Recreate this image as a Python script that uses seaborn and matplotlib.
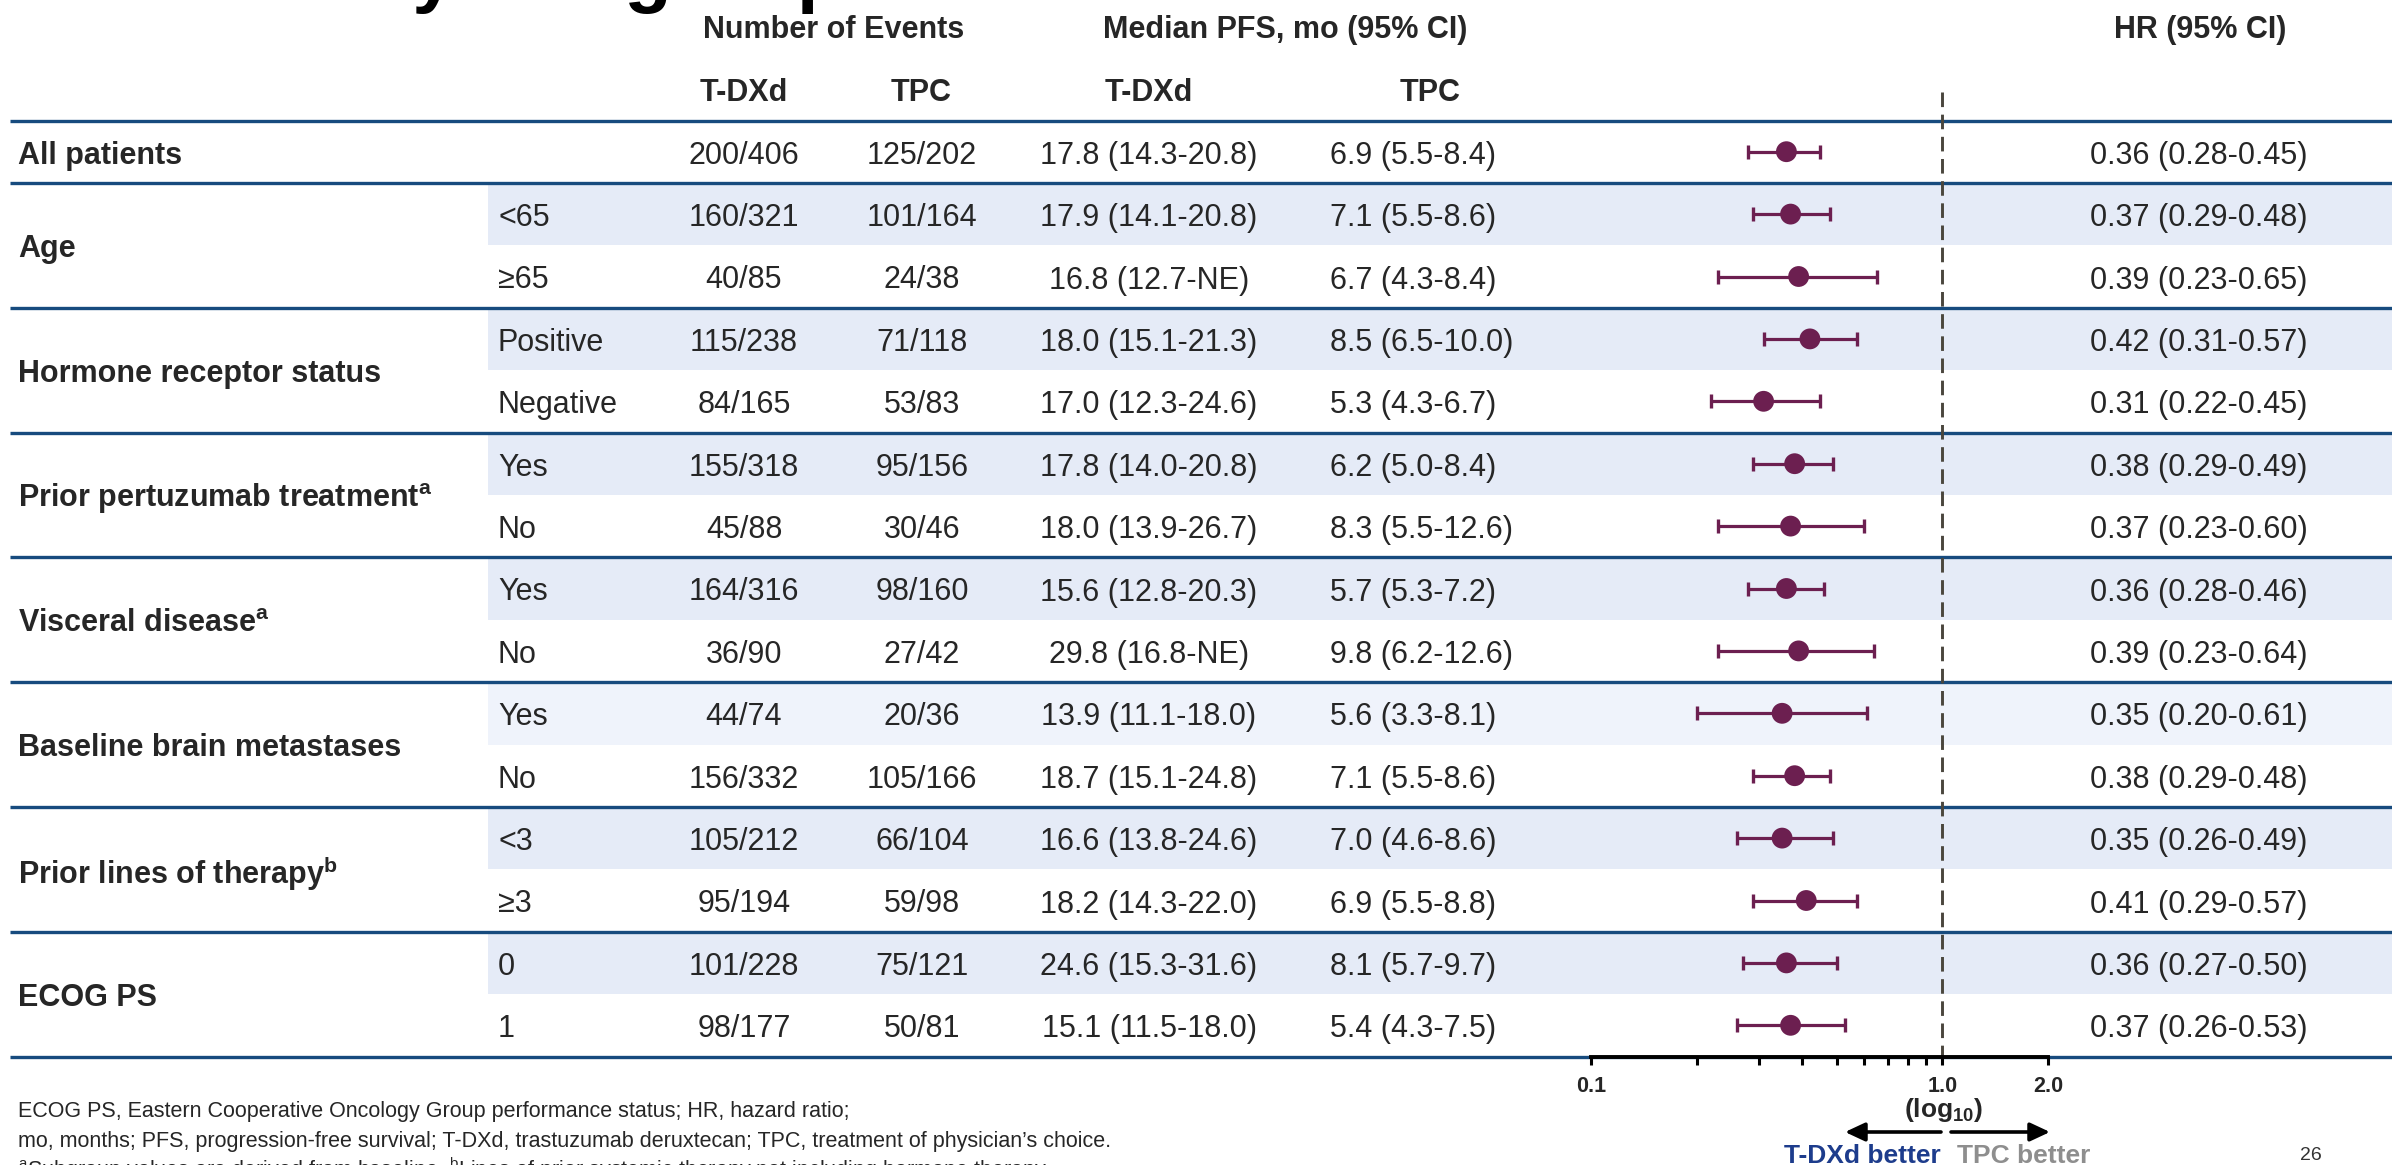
import numpy as np
import pandas as pd
import matplotlib
matplotlib.use("Agg")
import matplotlib.pyplot as plt
from matplotlib.patches import Rectangle
from matplotlib.ticker import FixedLocator, NullFormatter
import seaborn as sns

# ---- table content -------------------------------------------------------
groups = ["All patients", "Age", "Hormone receptor status",
          r"Prior pertuzumab treatment$^{\mathbf{a}}$",
          r"Visceral disease$^{\mathbf{a}}$", "Baseline brain metastases",
          r"Prior lines of therapy$^{\mathbf{b}}$", "ECOG PS"]
group_sizes = [1, 2, 2, 2, 2, 2, 2, 2]
subgroups = ["", "<65", "≥65", "Positive", "Negative", "Yes", "No", "Yes", "No",
             "Yes", "No", "<3", "≥3", "0", "1"]
events_tdxd = ["200/406", "160/321", "40/85", "115/238", "84/165", "155/318",
               "45/88", "164/316", "36/90", "44/74", "156/332", "105/212",
               "95/194", "101/228", "98/177"]
events_tpc = ["125/202", "101/164", "24/38", "71/118", "53/83", "95/156",
              "30/46", "98/160", "27/42", "20/36", "105/166", "66/104",
              "59/98", "75/121", "50/81"]
median_tdxd = ["17.8 (14.3-20.8)", "17.9 (14.1-20.8)", "16.8 (12.7-NE)",
               "18.0 (15.1-21.3)", "17.0 (12.3-24.6)", "17.8 (14.0-20.8)",
               "18.0 (13.9-26.7)", "15.6 (12.8-20.3)", "29.8 (16.8-NE)",
               "13.9 (11.1-18.0)", "18.7 (15.1-24.8)", "16.6 (13.8-24.6)",
               "18.2 (14.3-22.0)", "24.6 (15.3-31.6)", "15.1 (11.5-18.0)"]
median_tpc = ["6.9 (5.5-8.4)", "7.1 (5.5-8.6)", "6.7 (4.3-8.4)",
              "8.5 (6.5-10.0)", "5.3 (4.3-6.7)", "6.2 (5.0-8.4)",
              "8.3 (5.5-12.6)", "5.7 (5.3-7.2)", "9.8 (6.2-12.6)",
              "5.6 (3.3-8.1)", "7.1 (5.5-8.6)", "7.0 (4.6-8.6)",
              "6.9 (5.5-8.8)", "8.1 (5.7-9.7)", "5.4 (4.3-7.5)"]
hr = [0.36, 0.37, 0.39, 0.42, 0.31, 0.38, 0.37, 0.36, 0.39, 0.35, 0.38,
      0.35, 0.41, 0.36, 0.37]
hr_lo = [0.28, 0.29, 0.23, 0.31, 0.22, 0.29, 0.23, 0.28, 0.23, 0.20, 0.29,
         0.26, 0.29, 0.27, 0.26]
hr_hi = [0.45, 0.48, 0.65, 0.57, 0.45, 0.49, 0.60, 0.46, 0.64, 0.61, 0.48,
         0.49, 0.57, 0.50, 0.53]
axis_ticks = [0.1, 1.0, 2.0]
axis_tick_labels = ["0.1", "1.0", "2.0"]

footnotes = [
    "ECOG PS, Eastern Cooperative Oncology Group performance status; HR, hazard ratio;",
    "mo, months; PFS, progression-free survival; T-DXd, trastuzumab deruxtecan; "
    "TPC, treatment of physician\u2019s choice.",
    r"$^{\rm a}$Subgroup values are derived from baseline. "
    r"$^{\rm b}$Lines of prior systemic therapy not including hormone therapy.",
]

# ---- style ----------------------------------------------------------------
W, H, DPI = 2392, 1165, 100
sns.set_theme(style="white")
plt.rcParams["font.family"] = ["Liberation Sans", "DejaVu Sans"]
plt.rcParams["mathtext.fontset"] = "custom"
plt.rcParams["mathtext.rm"] = "Liberation Sans"
plt.rcParams["mathtext.bf"] = "Liberation Sans:bold"
plt.rcParams["mathtext.it"] = "Liberation Sans:italic"

PURPLE = "#6C1F50"
RULE = "#174B7E"
SHADE = "#E5EBF7"
SHADE_LIGHT = "#EFF3FB"
FS = 22
DY = 4  # optical centring of row text

fig = plt.figure(figsize=(W / DPI, H / DPI), dpi=DPI)
tab = fig.add_axes([0, 0, 1, 1])
tab.set_xlim(0, W)
tab.set_ylim(H, 0)
tab.axis("off")

TOP, ROW = 120.5, 62.4
n = len(subgroups)


def yc(i):
    return TOP + (i + 0.5) * ROW + DY


# row shading: first row of every two-row group
starts = np.cumsum([0] + group_sizes[:-1])
for g, (s, size) in enumerate(zip(starts, group_sizes)):
    if size == 2:
        col = SHADE_LIGHT if g == 5 else SHADE
        tab.add_patch(Rectangle((488, TOP + s * ROW), W - 488, ROW,
                                facecolor=col, edgecolor="none", zorder=0))

# horizontal rules between groups
for b in list(starts) + [n]:
    y = TOP + b * ROW
    tab.plot([10, W], [y, y], color=RULE, lw=2.4, solid_capstyle="butt",
             zorder=1)

# slide title (runs off the top edge)
tab.text(192, -2, "PFS by Subgroup", fontsize=56, fontweight="bold",
         ha="left", va="baseline", color="black")

# column headers
hdr = dict(fontsize=FS, fontweight="bold", va="center", ha="center")
tab.text(834, 30, "Number of Events", **hdr)
tab.text(1285, 30, "Median PFS, mo (95% CI)", **hdr)
tab.text(2200, 30, "HR (95% CI)", **hdr)
tab.text(744, 93, "T-DXd", **hdr)
tab.text(921, 93, "TPC", **hdr)
tab.text(1149, 93, "T-DXd", **hdr)
tab.text(1430, 93, "TPC", **hdr)

# group labels
for label, s, size in zip(groups, starts, group_sizes):
    y = TOP + (s + size / 2) * ROW + DY
    tab.text(18, y, label, fontsize=FS, fontweight="bold", va="center",
             ha="left")

# row cells
for i in range(n):
    y = yc(i)
    tab.text(498, y, subgroups[i], fontsize=FS, va="center", ha="left")
    tab.text(744, y, events_tdxd[i], fontsize=FS, va="center", ha="center")
    tab.text(922, y, events_tpc[i], fontsize=FS, va="center", ha="center")
    tab.text(1149, y, median_tdxd[i], fontsize=FS, va="center", ha="center")
    tab.text(1330, y, median_tpc[i], fontsize=FS, va="center", ha="left")
    tab.text(2090, y, f"{hr[i]:.2f} ({hr_lo[i]:.2f}-{hr_hi[i]:.2f})",
             fontsize=FS, va="center", ha="left")

# ---- forest panel ---------------------------------------------------------
fx0, fx1 = 1591, 2048
bottom_px = TOP + n * ROW
fa = fig.add_axes([fx0 / W, (H - bottom_px) / H, (fx1 - fx0) / W, n * ROW / H])
fa.patch.set_alpha(0)

df = pd.DataFrame({"row": np.arange(n) + 0.5, "hr": hr, "lo": hr_lo,
                   "hi": hr_hi})
fa.errorbar(df["hr"], df["row"],
            xerr=[df["hr"] - df["lo"], df["hi"] - df["hr"]],
            fmt="none", ecolor=PURPLE, elinewidth=2.3, capsize=5.0,
            capthick=2.4, zorder=3)
sns.scatterplot(data=df, x="hr", y="row", ax=fa, s=225, color=PURPLE,
                edgecolor="none", linewidth=0, zorder=4, legend=False)

fa.set_xscale("log")
fa.set_xlim(0.1, 2.0)
fa.set_ylim(n, 0)
fa.plot([1, 1], [-0.46, n], ls=(0, (5.0, 2.6)), color="#4A463D", lw=2.1,
        clip_on=False, zorder=2)

for side in ("left", "top", "right"):
    fa.spines[side].set_visible(False)
fa.spines["bottom"].set_color("black")
fa.spines["bottom"].set_linewidth(2.8)
fa.spines["bottom"].set_zorder(5)
fa.set_yticks([])
fa.xaxis.set_major_locator(FixedLocator(axis_ticks))
fa.set_xticklabels(axis_tick_labels)
fa.xaxis.set_minor_locator(FixedLocator([0.2, 0.3, 0.4, 0.5, 0.6, 0.7, 0.8, 0.9]))
fa.xaxis.set_minor_formatter(NullFormatter())
fa.tick_params(axis="x", which="both", direction="out", bottom=True,
               color="black", width=2.2, length=6, pad=8)
fa.tick_params(axis="x", which="major", labelsize=15.5)
for t in fa.get_xticklabels():
    t.set_fontweight("bold")
fa.set_xlabel("")
fa.set_ylabel("")

# axis caption and direction arrows
tab.text(1944, 1110, r"$\mathbf{(log_{10})}$", fontsize=19, ha="center",
         va="center")
arrow = dict(arrowstyle="-|>,head_length=0.6,head_width=0.28", lw=2.6,
             color="black", shrinkA=0, shrinkB=0, mutation_scale=20)
tab.annotate("", xy=(1845, 1132), xytext=(1941, 1132), arrowprops=arrow)
tab.annotate("", xy=(2050, 1132), xytext=(1951, 1132), arrowprops=arrow)
tab.text(1941, 1156, "T-DXd better", fontsize=19, fontweight="bold",
         color="#1D3C8C", ha="right", va="center")
tab.text(1957, 1156, "TPC better", fontsize=19, fontweight="bold",
         color="#8E8E8E", ha="left", va="center")

# footnotes and page number
for k, line in enumerate([1111, 1142, 1170]):
    tab.text(18, line, footnotes[k], fontsize=15.5, ha="left", va="center")
tab.text(2311, 1156, "26", fontsize=14, ha="center", va="center",
         color="#333333")

fig.savefig("out.png", dpi=DPI)
